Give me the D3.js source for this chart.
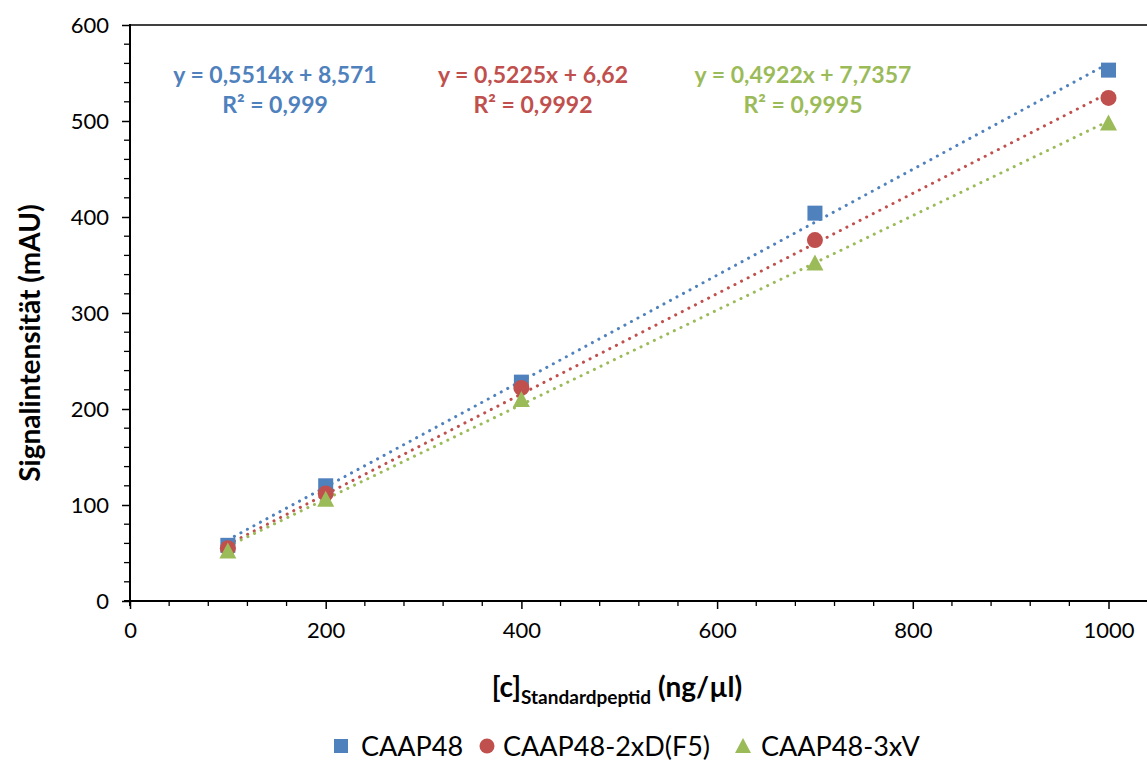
<!DOCTYPE html>
<html><head><meta charset="utf-8">
<script src="https://cdn.jsdelivr.net/npm/d3@7"></script>
<style>body{margin:0;background:#fff;} text{font-family:Lato,"Open Sans",sans-serif;}</style>
</head><body>
<svg id="c" width="1147" height="763"></svg>
<script>
const xValues = [100, 200, 400, 700, 1000];
const seriesNames = ["CAAP48", "CAAP48-2xD(F5)", "CAAP48-3xV"];
const seriesColors = ["#4F81BD", "#C0504D", "#9BBB59"];
const seriesShapes = ["square", "circle", "triangle"];
const caap48 = [58, 120, 228, 404, 553];
const caap48_2xD = [55, 112, 222, 376, 524];
const caap48_3xV = [52, 106, 210, 352, 498];
const slopes = [0.5514, 0.5225, 0.4922];
const intercepts = [8.571, 6.62, 7.7357];
const eqLabels = ["y = 0,5514x + 8,571", "y = 0,5225x + 6,62", "y = 0,4922x + 7,7357"];
const r2Labels = ["R² = 0,999", "R² = 0,9992", "R² = 0,9995"];
const xTicks = [0, 200, 400, 600, 800, 1000];
const yTicks = [0, 100, 200, 300, 400, 500, 600];

const series = [caap48, caap48_2xD, caap48_3xV];
const svg = d3.select("#c");
const x = d3.scaleLinear().domain([0, 1000]).range([130, 1108.5]);
const y = d3.scaleLinear().domain([0, 600]).range([601, 25]);

svg.append("line").attr("x1", 130).attr("x2", 1147).attr("y1", 25).attr("y2", 25)
  .attr("stroke", "#000").attr("stroke-width", 1.5);

const xMinor = d3.range(0, 1041, 40).filter(v => v % 200 !== 0);
svg.append("g").selectAll("line").data(xMinor).join("line")
  .attr("x1", d => x(d)).attr("x2", d => x(d)).attr("y1", 601).attr("y2", 606)
  .attr("stroke", "#000").attr("stroke-width", 1.3);
const xAxis = svg.append("g").attr("transform", "translate(0,601)")
  .call(d3.axisBottom(x).tickValues(xTicks).tickSize(8).tickPadding(13).tickFormat(d3.format("d")));
xAxis.select(".domain").remove();
xAxis.selectAll("line").attr("stroke-width", 1.5);
xAxis.selectAll("text").attr("font-size", 22).attr("fill", "#000").style("font-family", "Lato");
svg.append("line").attr("x1", 124).attr("x2", 1147).attr("y1", 601).attr("y2", 601)
  .attr("stroke", "#000").attr("stroke-width", 2);

const yMinor = d3.range(0, 601, 20).filter(v => v % 100 !== 0);
svg.append("g").selectAll("line").data(yMinor).join("line")
  .attr("x1", 124).attr("x2", 130).attr("y1", d => y(d)).attr("y2", d => y(d))
  .attr("stroke", "#000").attr("stroke-width", 1.3);
const yAxis = svg.append("g").attr("transform", "translate(130,0)")
  .call(d3.axisLeft(y).tickValues(yTicks).tickSize(8).tickPadding(13));
yAxis.select(".domain").remove();
yAxis.selectAll("line").attr("stroke-width", 1.5);
yAxis.selectAll("text").attr("font-size", 22).attr("fill", "#000").style("font-family", "Lato");
svg.append("line").attr("x1", 130).attr("x2", 130).attr("y1", 24).attr("y2", 606)
  .attr("stroke", "#000").attr("stroke-width", 2);

series.forEach((s, i) => {
  svg.append("line")
    .attr("x1", x(xValues[0])).attr("y1", y(slopes[i] * xValues[0] + intercepts[i]))
    .attr("x2", x(xValues[xValues.length - 1])).attr("y2", y(slopes[i] * xValues[xValues.length - 1] + intercepts[i]))
    .attr("stroke", seriesColors[i]).attr("stroke-width", 3)
    .attr("stroke-dasharray", "0.1 7.3").attr("stroke-linecap", "round");
});

function drawMarker(g, shape, cx, cy, color, s) {
  if (shape === "square") {
    g.append("rect").attr("x", cx - s / 2).attr("y", cy - s / 2).attr("width", s).attr("height", s).attr("fill", color);
  } else if (shape === "circle") {
    g.append("circle").attr("cx", cx).attr("cy", cy).attr("r", s / 2 + 0.5).attr("fill", color);
  } else {
    const h = s * 1.0;
    g.append("path").attr("d", `M${cx},${cy - h / 2 - 1}L${cx + s / 2 + 1},${cy + h / 2}L${cx - s / 2 - 1},${cy + h / 2}Z`).attr("fill", color);
  }
}
series.forEach((s, i) => {
  const g = svg.append("g");
  s.forEach((v, j) => drawMarker(g, seriesShapes[i], x(xValues[j]), y(v), seriesColors[i], 15));
});

const eqX = [275, 533, 803];
eqLabels.forEach((t, i) => {
  svg.append("text").attr("x", eqX[i]).attr("y", 83).attr("text-anchor", "middle")
    .attr("font-size", 23).attr("font-weight", "bold").attr("fill", seriesColors[i]).text(t);
  svg.append("text").attr("x", eqX[i]).attr("y", 113).attr("text-anchor", "middle")
    .attr("font-size", 23).attr("font-weight", "bold").attr("fill", seriesColors[i]).text(r2Labels[i]);
});

const xt = svg.append("text").attr("x", 617).attr("y", 697).attr("text-anchor", "middle")
  .attr("font-weight", "bold").attr("font-size", 28).attr("fill", "#000");
xt.append("tspan").text("[c]");
xt.append("tspan").attr("font-size", 19).attr("dy", 7).text("Standardpeptid");
xt.append("tspan").attr("dy", -7).text(" (ng/µl)");

svg.append("text").attr("transform", "translate(40,343) rotate(-90)").attr("text-anchor", "middle")
  .attr("font-weight", "bold").attr("font-size", 28).attr("fill", "#000").text("Signalintensität (mAU)");

const legX = [341, 487, 743];
const legTx = [361, 503, 761];
seriesNames.forEach((n, i) => {
  const g = svg.append("g");
  drawMarker(g, seriesShapes[i], legX[i], 746, seriesColors[i], 14);
  svg.append("text").attr("x", legTx[i]).attr("y", 756).attr("font-size", 27).attr("fill", "#000").text(n);
});
</script>
</body></html>
